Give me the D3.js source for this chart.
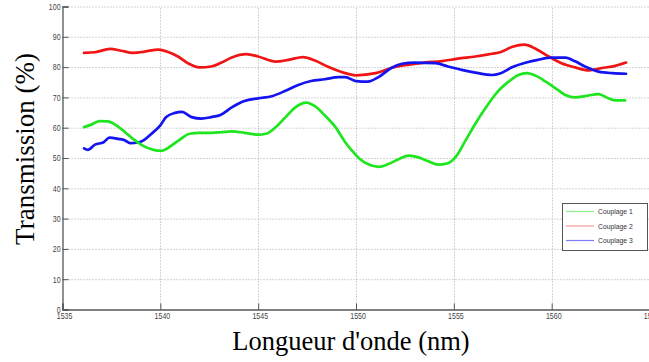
<!DOCTYPE html>
<html>
<head>
<meta charset="utf-8">
<script src="https://cdn.jsdelivr.net/npm/d3@7"></script>
<style>
body { margin: 0; background: #fff; }
svg { display: block; }
</style>
</head>
<body>
<script>
// wavelength (nm) / transmission (%)
var couplage1_x = [1536.1,1536.5,1536.9,1537.3,1537.75,1538.2,1538.6,1539.1,1539.65,1540.05,1540.5,1541.0,1541.5,1542.0,1542.6,1543.1,1543.65,1544.3,1545.0,1545.4,1545.9,1546.4,1546.9,1547.45,1547.9,1548.4,1548.95,1549.45,1549.95,1550.2,1550.6,1551.15,1551.65,1552.2,1552.7,1553.2,1553.7,1554.2,1554.65,1555.1,1555.6,1556.1,1556.6,1557.1,1557.4,1557.8,1558.3,1558.75,1559.2,1559.7,1560.2,1560.7,1561.2,1561.7,1562.4,1562.9,1563.3,1563.75];
var couplage1_y = [60.2,61.1,62.2,62.1,60.8,58.5,56.3,54.1,52.7,52.4,53.8,56.1,58.0,58.3,58.3,58.5,58.8,58.3,57.7,58.0,60.2,63.5,66.7,68.3,67.1,64.1,60.2,55.2,51.3,49.7,48.0,47.1,48.0,49.7,50.8,50.2,48.9,47.8,48.2,50.4,55.8,61.3,66.3,70.8,73.0,75.2,77.4,78.0,77.1,75.2,73.0,70.8,70.0,70.4,71.1,69.7,69.0,69.0];

var couplage2_x = [1536.1,1536.66,1537.43,1538.0,1538.6,1539.2,1539.9,1540.4,1540.9,1541.4,1542.0,1542.6,1543.1,1543.65,1544.4,1545.0,1545.9,1546.55,1547.3,1547.9,1548.6,1549.3,1550.0,1551.0,1551.8,1552.7,1553.5,1554.4,1555.2,1556.1,1556.95,1557.4,1558.0,1558.6,1559.2,1559.85,1560.5,1561.2,1561.9,1562.55,1563.25,1563.8];
var couplage2_y = [84.7,84.9,86.0,85.4,84.7,85.1,85.8,85.0,83.5,81.3,79.9,80.2,81.4,83.2,84.3,83.5,81.8,82.4,83.3,82.2,80.0,78.3,77.3,78.0,79.7,80.8,81.5,82.0,82.8,83.5,84.4,85.0,86.7,87.4,86.0,83.5,81.3,79.9,78.9,79.7,80.4,81.5];

var couplage3_x = [1536.1,1536.3,1536.66,1537.1,1537.4,1537.85,1538.2,1538.45,1538.9,1539.2,1539.55,1540.0,1540.3,1540.75,1541.1,1541.6,1542.1,1542.6,1543.1,1543.65,1544.3,1545.0,1545.7,1546.4,1547.05,1547.7,1548.4,1549.1,1549.45,1550.0,1550.6,1551.15,1551.8,1552.35,1553.0,1554.05,1554.7,1555.4,1556.1,1556.95,1557.4,1558.0,1558.7,1559.3,1560.0,1560.7,1561.2,1561.7,1562.4,1563.1,1563.8];
var couplage3_y = [53.2,52.7,54.4,55.2,56.7,56.3,55.8,54.9,55.2,56.1,58.0,60.8,63.5,64.9,65.2,63.5,63.0,63.5,64.3,66.7,68.8,69.7,70.4,72.2,74.1,75.4,76.0,76.7,76.7,75.4,75.2,76.7,79.7,81.1,81.5,81.3,80.2,79.1,78.2,77.4,78.0,80.0,81.5,82.4,83.1,83.1,81.9,80.2,78.5,78.0,77.8];

var x_ticks = [1535,1540,1545,1550,1555,1560,1565];
var y_ticks = [0,10,20,30,40,50,60,70,80,90,100];

var series_names = ["Couplage 1","Couplage 2","Couplage 3"];
var series_colors = ["#1ee61e","#f01414","#1414f0"];
var legend_colors = ["#8ef08e","#f59a9a","#7c7cf5"]; // 범례 선은 더 옅게 보임

var W = 649, H = 362;
var small_font = "'Liberation Sans', Arial, sans-serif";

var svg = d3.select("body").append("svg").attr("width", W).attr("height", H);

var x = d3.scaleLinear().domain([1535,1565]).range([62.5,649.5]);
var y = d3.scaleLinear().domain([0,100]).range([309.5,6.5]);

// 격자 (점선)
svg.append("g").selectAll("line")
	.data(y_ticks.slice(1))
	.enter()
	.append("line")
	.attr("x1", x(1535)).attr("x2", W)
	.attr("y1", function(d){return y(d)+0.5;})
	.attr("y2", function(d){return y(d)+0.5;})
	.attr("stroke", "#a8a8a8").attr("stroke-width", 1)
	.attr("stroke-dasharray", "1,2");

svg.append("g").selectAll("line")
	.data(x_ticks.slice(1))
	.enter()
	.append("line")
	.attr("y1", y(0)).attr("y2", y(100))
	.attr("x1", function(d){return Math.round(x(d))+0.5;})
	.attr("x2", function(d){return Math.round(x(d))+0.5;})
	.attr("stroke", "#a8a8a8").attr("stroke-width", 1)
	.attr("stroke-dasharray", "1,2");

// axes
var yAxis = d3.axisLeft(y).tickValues(y_ticks).tickSize(-6).tickPadding(2);
var xAxis = d3.axisBottom(x).tickValues(x_ticks).tickSize(-6).tickPadding(3).tickFormat(d3.format("d"));

var gy = svg.append("g").attr("transform", "translate(" + x(1535) + ",0)").call(yAxis);
var gx = svg.append("g").attr("transform", "translate(0," + y(0) + ")").call(xAxis);

[gy, gx].forEach(function(g){
	g.select(".domain").attr("stroke", "#555").attr("stroke-width", 1.3);
	g.selectAll(".tick line").attr("stroke", "#555").attr("stroke-width", 1);
	g.selectAll(".tick text")
		.attr("fill", "#444")
		.attr("transform", "scale(0.78,1)") // 좁은 글꼴 흉내
		.style("font-family", small_font)
		.style("font-size", "9px");
});
gy.selectAll(".tick text").attr("x", -2.5);
gx.selectAll(".tick text").attr("x", 2);

// courbes
var line = d3.line()
	.x(function(d){return x(d[0]);})
	.y(function(d){return y(d[1]);})
	.curve(d3.curveMonotoneX);

var all_x = [couplage1_x, couplage2_x, couplage3_x];
var all_y = [couplage1_y, couplage2_y, couplage3_y];

// 2, 3, 1 순서로 그림 (녹색이 위)
[1,2,0].forEach(function(i){
	var pts = d3.zip(all_x[i], all_y[i]);
	svg.append("path")
		.datum(pts)
		.attr("d", line)
		.attr("fill", "none")
		.attr("stroke", series_colors[i])
		.attr("stroke-width", 2.7)
		.attr("stroke-linejoin", "round")
		.attr("stroke-linecap", "round");
});

// legend
var lg = svg.append("g").attr("transform", "translate(562,203)");
lg.append("rect")
	.attr("x", 0.5).attr("y", 0.5)
	.attr("width", 85).attr("height", 47)
	.attr("fill", "#fff")
	.attr("stroke", "#555").attr("stroke-width", 1);

var items = lg.selectAll("g.item")
	.data(series_names)
	.enter()
	.append("g")
	.attr("transform", function(d,i){return "translate(0," + (8.5 + i*14.5) + ")";});

items.append("line")
	.attr("x1", 4).attr("x2", 32)
	.attr("y1", 0).attr("y2", 0)
	.attr("stroke", function(d,i){return legend_colors[i];})
	.attr("stroke-width", 1.2);

items.append("text")
	.attr("x", 36 / 0.85).attr("y", 0).attr("dy", "0.35em")
	.attr("transform", "scale(0.85,1)")
	.attr("fill", "#333")
	.style("font-family", small_font)
	.style("font-size", "8px")
	.text(function(d){return d;});

// axis titles
svg.append("text")
	.attr("transform", "translate(34,149) rotate(-90)")
	.attr("text-anchor", "middle")
	.style("font-family", "'Liberation Serif', 'Times New Roman', serif")
	.style("font-size", "27px")
	.attr("fill", "#000")
	.text("Transmission (%)");

svg.append("text")
	.attr("x", 351).attr("y", 350)
	.attr("text-anchor", "middle")
	.style("font-family", "'Liberation Serif', 'Times New Roman', serif")
	.style("font-size", "26.5px")
	.attr("fill", "#000")
	.text("Longueur d'onde (nm)");
</script>
</body>
</html>
